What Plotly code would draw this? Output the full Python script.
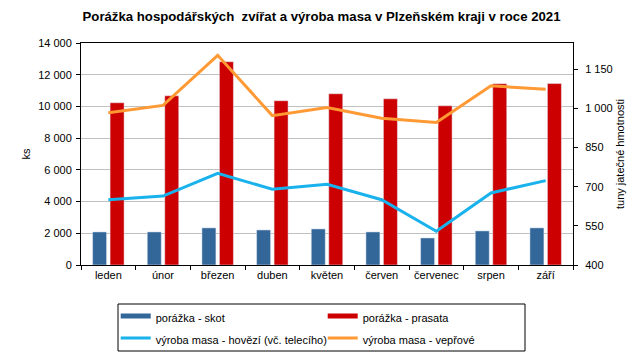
import plotly.graph_objects as go

months = ["leden", "únor", "březen", "duben", "květen", "červen", "červenec", "srpen", "září"]
skot = [2085, 2085, 2340, 2210, 2275, 2085, 1705, 2150, 2340]
prasata = [10230, 10670, 12820, 10360, 10800, 10480, 10040, 11430, 11440]
hovezi = [650, 664, 751, 690, 709, 650, 529, 676, 723]
veprove = [983, 1011, 1203, 972, 1003, 962, 946, 1086, 1073]

names = ["porážka - skot", "porážka - prasata",
         "výroba masa - hovězí (vč. telecího)", "výroba masa - vepřové"]
colors = ["#336699", "#cc0000", "#19b2ec", "#ff9933"]

left_ticks = list(range(0, 14001, 2000))
right_ticks = list(range(400, 1151, 150))

W, H = 643, 359
ML, MR, MT, MB = 81, 70, 43, 94
PW, PH = W - ML - MR, H - MT - MB

fig = go.Figure()
fig.add_trace(go.Bar(x=months, y=skot, marker_color=colors[0], showlegend=False, name=names[0]))
fig.add_trace(go.Bar(x=months, y=prasata, marker_color=colors[1], showlegend=False, name=names[1]))
fig.add_trace(go.Scatter(x=months, y=hovezi, mode="lines", line=dict(color=colors[2], width=3),
                         yaxis="y2", showlegend=False, name=names[2]))
fig.add_trace(go.Scatter(x=months, y=veprove, mode="lines", line=dict(color=colors[3], width=3),
                         yaxis="y2", showlegend=False, name=names[3]))

# legend-only entries (line-shaped swatches as in the original)
for i, (n, c) in enumerate(zip(names, colors)):
    fig.add_trace(go.Scatter(x=[None], y=[None], mode="lines",
                             name='<span style="font-size:11px">' + n + "</span>",
                             line=dict(color=c, width=5 if i < 2 else 3),
                             yaxis="y2" if i >= 2 else "y"))

# legend frame (box around the legend)
box_l, box_r, box_t, box_b = 118, 525, 304, 351
fig.add_shape(type="rect", xref="paper", yref="paper",
              x0=(box_l - ML) / PW, x1=(box_r - ML) / PW,
              y0=(H - MB - box_b) / PH, y1=(H - MB - box_t) / PH,
              line=dict(color="black", width=1), fillcolor="rgba(0,0,0,0)", layer="above")

font = "Liberation Sans, Arial, sans-serif"
fig.update_layout(
    width=W, height=H,
    margin=dict(l=ML, r=MR, t=MT, b=MB, autoexpand=False),
    paper_bgcolor="white", plot_bgcolor="white",
    font=dict(family=font, size=11, color="black"),
    separators=", ",
    title=dict(text="<b>Porážka hospodářských \u00a0zvířat a výroba masa v Plzeňském kraji v roce 2021</b>",
               x=0.5, xanchor="center", y=1 - 16.5 / H, yanchor="middle",
               font=dict(size=13.2, family=font, color="black")),
    barmode="group", bargap=0.36, bargroupgap=0.2,
    xaxis=dict(type="category", showline=True, linecolor="black", linewidth=1, mirror=True,
               ticks="outside", ticklen=4, tickcolor="black", tickson="boundaries",
               showgrid=False, tickfont=dict(size=11)),
    yaxis=dict(range=[0, 14000], tickvals=left_ticks, tickformat=",d",
               showline=True, linecolor="black", linewidth=1,
               ticks="outside", ticklen=4, tickcolor="black", ticklabelstandoff=2,
               showgrid=True, gridcolor="#c0c0c0", gridwidth=1, zeroline=False,
               title=dict(text="ks", standoff=5, font=dict(size=11))),
    yaxis2=dict(range=[400, 1250], tickvals=right_ticks, tickformat=",d",
                overlaying="y", side="right", anchor="x",
                showline=True, linecolor="black", linewidth=1,
                ticks="outside", ticklen=4, tickcolor="black", ticklabelstandoff=5,
                showgrid=False, zeroline=False,
                title=dict(text="tuny jatečné hmotnosti", standoff=4, font=dict(size=11))),
    legend=dict(orientation="h", xref="container", yref="container",
                x=115.7 / W, xanchor="left", y=1 - 300 / H, yanchor="top",
                borderwidth=0, bgcolor="rgba(0,0,0,0)",
                entrywidth=162, entrywidthmode="pixels", itemwidth=30,
                font=dict(size=14.6, family=font), traceorder="normal"),
)

fig.write_html("out.html", config={"displayModeBar": False},
               post_script="document.body.style.margin='0';document.body.style.overflow='hidden';")
